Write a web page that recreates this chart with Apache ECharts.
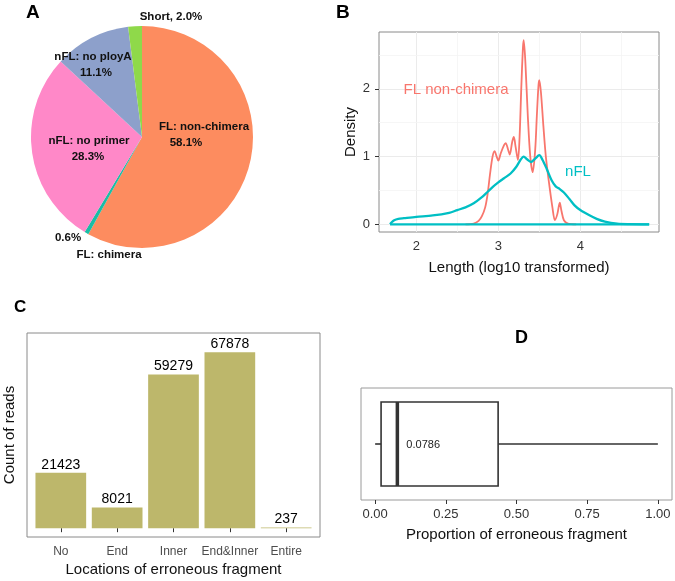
<!DOCTYPE html>
<html><head><meta charset="utf-8">
<script src="https://cdn.jsdelivr.net/npm/echarts@6/dist/echarts.min.js"></script>
<style>html,body{margin:0;padding:0;background:#fff}#c{width:675px;height:581px}</style>
</head><body><div id="c"></div>
<script>
// ---- Panel A: read composition ----
const pieNames = ['FL: non-chimera', 'FL: chimera', 'nFL: no primer', 'nFL: no ployA', 'Short'];
const pieValues = [58.1, 0.6, 28.3, 11.1, 2.0];
const pieColors = ['#FD8C5F', '#1BBDA5', '#FF88C8', '#8DA0CB', '#8FD94A'];

// ---- Panel B: length density (x = log10 length, y = density) ----
const flX = [2.60,2.70,2.76,2.80,2.84,2.87,2.90,2.93,2.955,2.98,3.00,3.03,3.07,3.09,3.12,3.14,3.17,3.19,3.21,3.24,3.26,3.28,3.30,3.31,3.33,3.36,3.39,3.42,3.45,3.47,3.49,3.50,3.52,3.55,3.58,3.62,3.66,3.69,3.72,3.75,3.77,3.80,3.85,3.95];
const flY = [0,0.01,0.05,0.12,0.25,0.45,0.75,1.0,1.08,1.0,0.94,1.05,1.17,1.2,1.1,1.03,1.22,1.29,1.15,0.95,1.3,2.0,2.6,2.72,2.4,1.6,1.0,0.77,1.1,1.6,2.05,2.13,1.95,1.45,1.0,0.6,0.25,0.06,0.15,0.32,0.2,0.06,0.01,0];
const nflX = [1.68,1.70,1.73,1.78,1.85,2.0,2.2,2.4,2.5,2.6,2.7,2.8,2.87,2.93,3.0,3.07,3.15,3.22,3.27,3.31,3.35,3.40,3.45,3.50,3.54,3.59,3.65,3.70,3.75,3.80,3.87,3.93,4.0,4.1,4.2,4.3,4.45,4.6,4.84];
const nflY = [0,0.03,0.06,0.08,0.09,0.11,0.13,0.17,0.21,0.25,0.31,0.40,0.48,0.55,0.62,0.68,0.75,0.85,0.95,1.0,0.96,0.92,0.97,1.02,0.95,0.82,0.65,0.56,0.52,0.47,0.37,0.28,0.21,0.14,0.08,0.04,0.01,0.003,0];
const bXTicks = [2, 3, 4];
const bYTicks = [0, 1, 2];
const bXGrid = [2, 2.5, 3, 3.5, 4, 4.5];
const bYGrid = [0, 0.5, 1, 1.5, 2, 2.5];

// ---- Panel C: erroneous fragment locations ----
const locCategories = ['No', 'End', 'Inner', 'End&Inner', 'Entire'];
const locCounts = [21423, 8021, 59279, 67878, 237];

// ---- Panel D: proportion boxplot [min, q1, median, q3, max] ----
const boxValues = [0, 0.021, 0.0786, 0.435, 1.0];
const dXTicks = [0, 0.25, 0.5, 0.75, 1.0];

const FONT = 'Liberation Sans, Arial, sans-serif';
const chart = echarts.init(document.getElementById('c'), null, {renderer: 'canvas'});

const pieLabels = [
  {t: 'FL: non-chimera', x: 204, y: 127},
  {t: pieValues[0].toFixed(1) + '%', x: 186, y: 143},
  {t: 'nFL: no primer', x: 89, y: 141},
  {t: pieValues[2].toFixed(1) + '%', x: 88, y: 157},
  {t: 'nFL: no ployA', x: 93, y: 57},
  {t: pieValues[3].toFixed(1) + '%', x: 96, y: 73},
  {t: 'Short, ' + pieValues[4].toFixed(1) + '%', x: 171, y: 17},
  {t: pieValues[1].toFixed(1) + '%', x: 68, y: 238},
  {t: 'FL: chimera', x: 109, y: 255}
];

const axisLbl = (c, fs) => ({color: c, fontSize: fs, fontFamily: FONT});

const option = {
  backgroundColor: '#fff',
  animation: false,
  grid: [
    {left: 379, top: 32, width: 280, height: 200, show: true, borderColor: '#8a8a8a', borderWidth: 1, backgroundColor: '#fff'},
    {left: 27, top: 333, width: 293, height: 204, show: true, borderColor: '#8a8a8a', borderWidth: 1, backgroundColor: '#fff'},
    {left: 361, top: 388, width: 311, height: 112, show: true, borderColor: '#9a9a9a', borderWidth: 1, backgroundColor: '#fff'}
  ],
  xAxis: [
    {type: 'value', gridIndex: 0, min: 1.545, max: 4.96,
     axisLine: {show: false}, splitLine: {show: false},
     axisTick: {show: true, length: 4, customValues: bXTicks, lineStyle: {color: '#333'}},
     axisLabel: {customValues: bXTicks, margin: 8, ...axisLbl('#333', 13)},
     name: 'Length (log10 transformed)', nameLocation: 'middle', nameGap: 28,
     nameTextStyle: {fontSize: 15, color: '#111', fontFamily: FONT}},
    {type: 'value', gridIndex: 1, min: 0.4, max: 5.6,
     axisLine: {show: false}, splitLine: {show: false},
     axisTick: {show: true, length: 4, customValues: [1,2,3,4,5], lineStyle: {color: '#333'}},
     axisLabel: {customValues: [1,2,3,4,5], margin: 9, formatter: v => locCategories[Math.round(v) - 1], ...axisLbl('#4d4d4d', 12)},
     name: 'Locations of erroneous fragment', nameLocation: 'middle', nameGap: 25,
     nameTextStyle: {fontSize: 15, color: '#111', fontFamily: FONT}},
    {type: 'value', gridIndex: 2, min: -0.05, max: 1.05,
     axisLine: {show: false}, splitLine: {show: false},
     axisTick: {show: true, length: 4, customValues: dXTicks, lineStyle: {color: '#333'}},
     axisLabel: {customValues: dXTicks, margin: 8, formatter: v => v.toFixed(2), ...axisLbl('#333', 13)},
     name: 'Proportion of erroneous fragment', nameLocation: 'middle', nameGap: 27,
     nameTextStyle: {fontSize: 15, color: '#111', fontFamily: FONT}}
  ],
  yAxis: [
    {type: 'value', gridIndex: 0, min: -0.114, max: 2.84,
     axisLine: {show: false}, splitLine: {show: false},
     axisTick: {show: true, length: 4, customValues: bYTicks, lineStyle: {color: '#333'}},
     axisLabel: {customValues: bYTicks, margin: 9, ...axisLbl('#333', 13)},
     name: 'Density', nameLocation: 'middle', nameGap: 21, nameRotate: 90,
     nameTextStyle: {fontSize: 15, color: '#111', fontFamily: FONT}},
    {type: 'value', gridIndex: 1, min: -3400, max: 75300,
     axisLine: {show: false}, splitLine: {show: false}, axisTick: {show: false}, axisLabel: {show: false},
     name: 'Count of reads', nameLocation: 'middle', nameGap: 10, nameRotate: 90,
     nameTextStyle: {fontSize: 15, color: '#111', fontFamily: FONT}},
    {type: 'value', gridIndex: 2, min: 0.4, max: 1.6,
     axisLine: {show: false}, splitLine: {show: false}, axisTick: {show: false}, axisLabel: {show: false}}
  ],
  graphic: [
    {type: 'text', z: 100, left: 26, top: 3, style: {text: 'A', font: 'bold 19px ' + FONT, fill: '#000'}},
    {type: 'text', z: 100, left: 336, top: 3, style: {text: 'B', font: 'bold 19px ' + FONT, fill: '#000'}},
    {type: 'text', z: 100, left: 14, top: 299, style: {text: 'C', font: 'bold 17px ' + FONT, fill: '#000'}},
    {type: 'text', z: 100, left: 515, top: 329, style: {text: 'D', font: 'bold 18px ' + FONT, fill: '#000'}},
    ...pieLabels.map(l => ({type: 'text', z: 100, x: l.x, y: l.y, style: {text: l.t, font: 'bold 11.5px ' + FONT, fill: '#111', align: 'center', verticalAlign: 'middle'}})),
    {type: 'text', z: 100, x: 456, y: 90, style: {text: 'FL non-chimera', font: '15px ' + FONT, fill: '#F8766D', align: 'center', verticalAlign: 'middle'}},
    {type: 'text', z: 100, x: 578, y: 172, style: {text: 'nFL', font: '15px ' + FONT, fill: '#00BFC4', align: 'center', verticalAlign: 'middle'}}
  ],
  series: [
    {type: 'pie', center: [142, 137], radius: [0, 111], startAngle: 90, clockwise: true,
     label: {show: false}, labelLine: {show: false}, silent: true,
     itemStyle: {borderWidth: 0},
     data: pieNames.map((n, i) => ({name: n, value: pieValues[i], itemStyle: {color: pieColors[i]}}))},
    {type: 'line', xAxisIndex: 0, yAxisIndex: 0, data: [], z: 1, silent: true,
     markLine: {z: 1, silent: true, symbol: 'none', label: {show: false}, animation: false,
       data: [
         ...bXGrid.map(v => ({xAxis: v, lineStyle: {color: Number.isInteger(v) ? '#EBEBEB' : '#F4F4F4', width: Number.isInteger(v) ? 1 : 0.8, type: 'solid'}})),
         ...bYGrid.map(v => ({yAxis: v, lineStyle: {color: Number.isInteger(v) ? '#EBEBEB' : '#F4F4F4', width: Number.isInteger(v) ? 1 : 0.8, type: 'solid'}}))
       ]}},
    {type: 'line', name: 'FL non-chimera', xAxisIndex: 0, yAxisIndex: 0, z: 10,
     showSymbol: false, smooth: 0.3, lineStyle: {color: '#F8766D', width: 1.8},
     data: flX.map((x, i) => [x, flY[i]])},
    {type: 'line', name: 'nFL', xAxisIndex: 0, yAxisIndex: 0, z: 11,
     showSymbol: false, smooth: 0.3, lineStyle: {color: '#00BFC4', width: 2.3},
     data: nflX.map((x, i) => [x, nflY[i]])},
    {type: 'line', name: 'nFL baseline', xAxisIndex: 0, yAxisIndex: 0, z: 11,
     showSymbol: false, lineStyle: {color: '#00BFC4', width: 2.3},
     data: [[nflX[0], 0], [nflX[nflX.length - 1], 0]]},
    {type: 'bar', xAxisIndex: 1, yAxisIndex: 1, barWidth: 50.7,
     itemStyle: {color: '#BDB76B'},
     label: {show: true, position: 'top', distance: 1, color: '#000', fontSize: 14, fontFamily: FONT},
     data: locCounts.map((v, i) => [i + 1, v])},
    {type: 'custom', xAxisIndex: 2, yAxisIndex: 2,
     encode: {x: [0, 1, 2, 3, 4], y: 5},
     data: [[...boxValues, 1]],
     renderItem: function (params, api) {
       const y = api.value(5);
       const pMin = api.coord([api.value(0), y]);
       const pQ1 = api.coord([api.value(1), y]);
       const pMed = api.coord([api.value(2), y]);
       const pQ3 = api.coord([api.value(3), y]);
       const pMax = api.coord([api.value(4), y]);
       const h = api.size([0, 0.9])[1];
       const top = pMed[1] - h / 2;
       const st = {stroke: '#333', lineWidth: 1.6, fill: null};
       return {type: 'group', children: [
         {type: 'line', shape: {x1: pMin[0], y1: pMin[1], x2: pQ1[0], y2: pQ1[1]}, style: st},
         {type: 'line', shape: {x1: pQ3[0], y1: pQ3[1], x2: pMax[0], y2: pMax[1]}, style: st},
         {type: 'rect', shape: {x: pQ1[0], y: top, width: pQ3[0] - pQ1[0], height: h}, style: {stroke: '#333', lineWidth: 1.6, fill: '#fff'}},
         {type: 'line', shape: {x1: pMed[0], y1: top, x2: pMed[0], y2: top + h}, style: {stroke: '#333', lineWidth: 3.5}},
         {type: 'text', x: pMed[0] + 9, y: pMed[1] + 1, style: {text: String(api.value(2)), font: '11px ' + FONT, fill: '#222', verticalAlign: 'middle', align: 'left'}}
       ]};
     }}
  ]
};
chart.setOption(option);
</script>
</body></html>
